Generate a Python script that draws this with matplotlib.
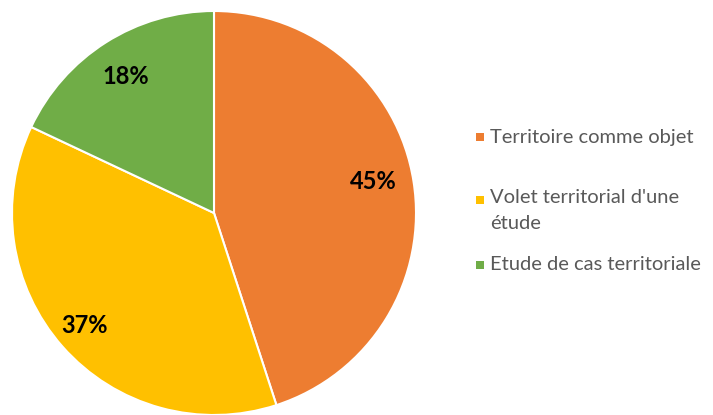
import matplotlib.pyplot as plt
from matplotlib.patches import Rectangle

# Données du graphique
labels = ["Territoire comme objet", "Volet territorial d'une\nétude", "Etude de cas territoriale"]
values = [45, 37, 18]
colors = ["#ED7D31", "#FFC000", "#70AD47"]

plt.rcParams['font.family'] = ['Lato', 'DejaVu Sans']

fig = plt.figure(figsize=(7.13, 4.15), dpi=100)
ax = fig.add_axes([12 / 713, 0.0, 404 / 713, 404 / 415])

wedges, texts, autotexts = ax.pie(
    values, colors=colors, startangle=90, counterclock=False,
    autopct='%1.0f%%', pctdistance=0.8, radius=1,
    wedgeprops=dict(edgecolor='white', linewidth=1.5),
    textprops=dict(fontsize=17, fontweight='bold', color='black'))
ax.set_xlim(-1, 1)
ax.set_ylim(-1, 1)
ax.set_aspect('equal')
ax.axis('off')

# petit décalage des étiquettes, comme dans Excel
offsets = [(0.0, 0.03), (-0.04, -0.03), (-0.01, 0.0)]
for t, (dx, dy) in zip(autotexts, offsets):
    x, y = t.get_position()
    t.set_position((x + dx, y + dy))

# Légende placée à la main (style Excel)
y_rows = [137, 200, 265]
for lab, col, y in zip(labels, colors, y_rows):
    fig.patches.append(Rectangle((476 / 713, 1 - (y + 4) / 415), 8 / 713, 8 / 415,
                                 transform=fig.transFigure, facecolor=col, edgecolor='none'))
    if '\n' in lab:
        fig.text(490 / 713, 1 - (y - 11) / 415, lab, fontsize=14.5, color='#595959',
                 va='top', ha='left', linespacing=1.65)
    else:
        fig.text(490 / 713, 1 - y / 415, lab, fontsize=14.5, color='#595959',
                 va='center', ha='left')

fig.savefig('out.png', dpi=100)
